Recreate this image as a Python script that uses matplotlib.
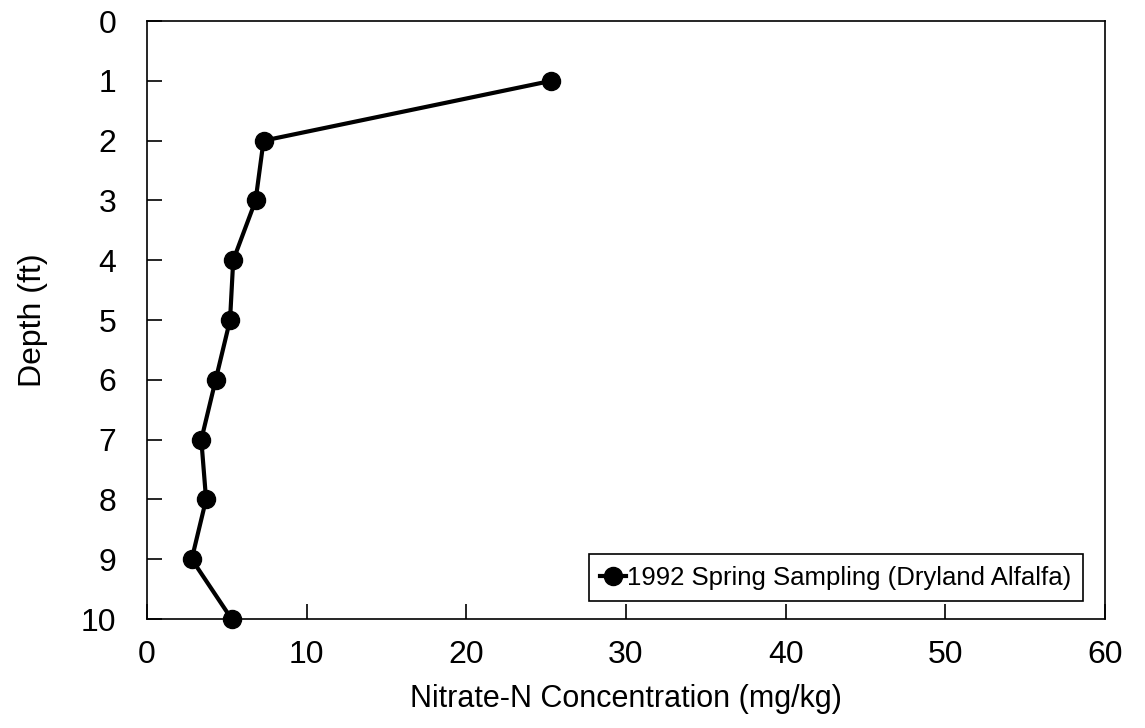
import numpy as np
import matplotlib.pyplot as plt

plt.rcParams['font.family'] = ['Liberation Sans', 'DejaVu Sans']

# Depth profile readings
depth_ft = [1, 2, 3, 4, 5, 6, 7, 8, 9, 10]
nitrate_mgkg = [25.3, 7.3, 6.8, 5.4, 5.2, 4.3, 3.4, 3.7, 2.8, 5.3]
series_label = '1992 Spring Sampling (Dryland Alfalfa)'

fig = plt.figure(figsize=(11.45, 7.28), dpi=100)
ax = fig.add_axes([0.1284, 0.1497, 0.8366, 0.8213])

ax.plot(nitrate_mgkg, depth_ft, color='black', lw=3, marker='o',
        markersize=13, label=series_label, clip_on=False, zorder=5)

ax.set_xlim(0, 60)
ax.set_ylim(10, 0)
ax.set_xticks(np.arange(0, 61, 10))
ax.set_yticks(np.arange(0, 11, 1))
ax.tick_params(direction='in', length=11, width=1.2, labelsize=23)
ax.tick_params(axis='x', pad=15)
ax.tick_params(axis='y', pad=22)
for s in ax.spines.values():
    s.set_linewidth(1.2)

ax.set_xlabel('Nitrate-N Concentration (mg/kg)', fontsize=22, labelpad=10)
ax.set_ylabel('Depth (ft)', fontsize=23, labelpad=24)

leg = ax.legend(loc='lower right', bbox_to_anchor=(0.977, 0.03), borderaxespad=0,
                fancybox=False, edgecolor='black', fontsize=18.5, handlelength=1.0,
                handletextpad=0.05, borderpad=0.45, framealpha=1)
leg.get_frame().set_linewidth(1.2)

fig.savefig('out.png', dpi=100)
